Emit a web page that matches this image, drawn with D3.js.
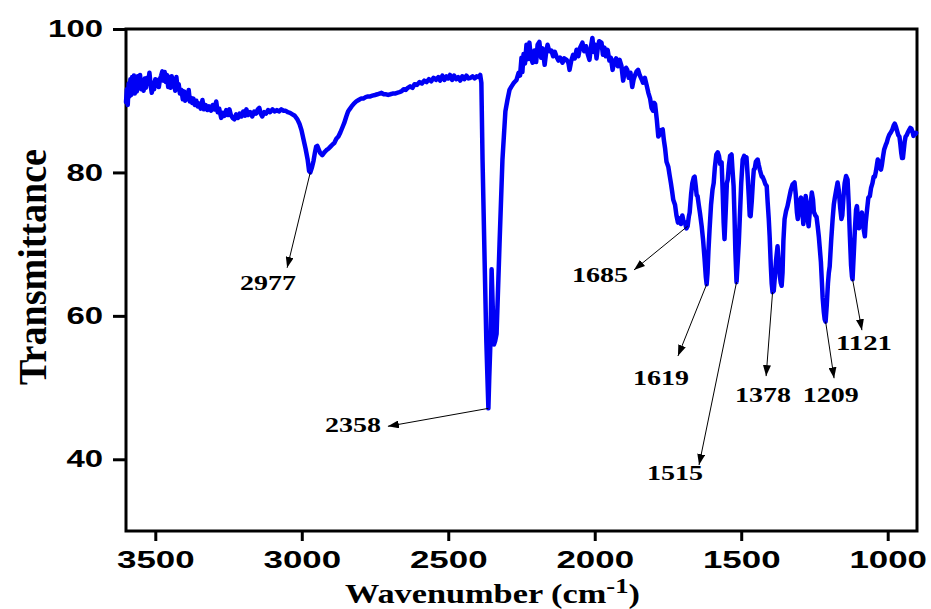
<!DOCTYPE html>
<html>
<head>
<meta charset="utf-8">
<script src="https://cdn.jsdelivr.net/npm/d3@7"></script>
<style>
  body { margin: 0; background: #fff; }
  svg { display: block; }
</style>
</head>
<body>
<svg id="chart" width="931" height="609"></svg>
<script>
// FTIR spectrum
const wavenumber = [
  3600, 3597, 3594, 3591, 3588, 3585, 3582, 3579, 3576, 3573, 3570, 3566, 3563, 3560, 3556, 3552, 3548, 3544, 3540, 3536,
  3532, 3528, 3524, 3520, 3516, 3512, 3508, 3504, 3500, 3496, 3492, 3488, 3484, 3480, 3476, 3472, 3468, 3464, 3460, 3456,
  3452, 3448, 3444, 3440, 3436, 3432, 3428, 3424, 3420, 3416, 3411, 3406, 3402, 3398, 3394, 3390, 3386, 3382, 3378, 3374,
  3370, 3365, 3360, 3355, 3350, 3345, 3339, 3334, 3328, 3322, 3316, 3310, 3304, 3298, 3292, 3287, 3282, 3275, 3270, 3264,
  3258, 3252, 3247, 3242, 3236, 3230, 3224, 3218, 3212, 3206, 3200, 3194, 3189, 3183, 3176, 3169, 3162, 3156, 3150, 3145,
  3140, 3135, 3128, 3122, 3115, 3108, 3100, 3092, 3085, 3078, 3070, 3062, 3055, 3048, 3040, 3032, 3024, 3015, 3008, 3001,
  2994, 2987, 2980, 2975, 2971, 2966, 2960, 2955, 2951, 2947, 2942, 2937, 2930, 2923, 2916, 2909, 2902, 2895, 2889, 2882,
  2875, 2868, 2861, 2855, 2848, 2842, 2837, 2830, 2822, 2814, 2806, 2798, 2790, 2782, 2774, 2766, 2759, 2750, 2742, 2735,
  2728, 2720, 2712, 2705, 2698, 2690, 2682, 2675, 2667, 2660, 2652, 2645, 2638, 2630, 2622, 2615, 2607, 2598, 2590, 2582,
  2574, 2566, 2558, 2550, 2542, 2534, 2528, 2520, 2513, 2506, 2500, 2494, 2487, 2480, 2473, 2466, 2459, 2452, 2445, 2438,
  2431, 2424, 2417, 2410, 2403, 2396, 2391, 2387, 2383, 2376, 2370, 2366, 2363, 2360, 2356, 2352, 2348, 2344, 2340, 2335,
  2325, 2315, 2305, 2298, 2291, 2284, 2276, 2267, 2260, 2255, 2250, 2247, 2243, 2238, 2233, 2228, 2223, 2218, 2212, 2206,
  2200, 2195, 2189, 2183, 2178, 2171, 2166, 2161, 2155, 2148, 2142, 2136, 2130, 2124, 2118, 2110, 2104, 2096, 2090, 2086,
  2080, 2074, 2068, 2062, 2056, 2050, 2042, 2036, 2030, 2024, 2018, 2013, 2008, 2003, 1998, 1994, 1990, 1985, 1977, 1972,
  1967, 1962, 1956, 1950, 1945, 1939, 1933, 1927, 1921, 1915, 1909, 1903, 1898, 1893, 1889, 1884, 1878, 1872, 1867, 1862,
  1857, 1852, 1846, 1840, 1835, 1829, 1823, 1817, 1811, 1806, 1801, 1797, 1794, 1788, 1783, 1778, 1773, 1768, 1764, 1760,
  1755, 1749, 1744, 1740, 1736, 1732, 1726, 1721, 1716, 1711, 1706, 1701, 1697, 1692, 1687, 1683, 1679, 1676, 1671, 1667,
  1662, 1659, 1655, 1652, 1649, 1645, 1641, 1635, 1630, 1625, 1621, 1618, 1615, 1612, 1608, 1603, 1598, 1594, 1590, 1585,
  1580, 1576, 1572, 1567, 1563, 1560, 1557, 1553, 1549, 1546, 1542, 1538, 1533, 1530, 1526, 1523, 1520, 1516, 1512, 1508,
  1505, 1500, 1495, 1490, 1485, 1482, 1478, 1474, 1471, 1468, 1464, 1460, 1457, 1454, 1450, 1444, 1440, 1436, 1430, 1427,
  1422, 1418, 1413, 1410, 1406, 1403, 1399, 1396, 1393, 1389, 1385, 1381, 1376, 1372, 1368, 1365, 1362, 1359, 1356, 1352,
  1347, 1342, 1336, 1331, 1325, 1318, 1314, 1310, 1307, 1303, 1300, 1296, 1292, 1288, 1284, 1280, 1276, 1273, 1270, 1266,
  1262, 1259, 1255, 1252, 1247, 1243, 1239, 1235, 1232, 1228, 1225, 1222, 1218, 1215, 1212, 1208, 1204, 1201, 1198, 1193,
  1188, 1184, 1181, 1176, 1171, 1167, 1162, 1158, 1155, 1151, 1147, 1142, 1137, 1133, 1129, 1125, 1122, 1120, 1116, 1112,
  1108, 1105, 1101, 1098, 1095, 1092, 1088, 1085, 1081, 1078, 1075, 1070, 1066, 1061, 1057, 1052, 1048, 1044, 1040, 1037,
  1034, 1030, 1027, 1023, 1020, 1016, 1012, 1007, 1003, 999, 994, 989, 984, 979, 976, 972, 968, 964, 960, 957,
  954, 951, 948, 945, 942, 939, 935, 931, 927, 923, 919, 915, 912, 909, 906, 903
];

const transmittance = [
  89.8, 91.6, 89.4, 92.4, 90.6, 93.0, 90.8, 93.3, 91.2, 93.5, 91.0, 92.9, 91.3, 93.4, 92.0, 93.6, 91.6, 92.3, 91.4, 93.1,
  91.8, 93.2, 92.6, 93.9, 92.2, 91.1, 92.5, 91.6, 93.0, 92.1, 92.9, 91.9, 93.0, 93.5, 94.1, 92.8, 94.0, 92.6, 93.6, 91.9,
  93.3, 91.8, 93.4, 92.0, 92.6, 91.4, 93.3, 91.6, 92.3, 91.0, 91.5, 90.2, 91.3, 90.0, 91.1, 90.2, 91.5, 89.9, 90.4, 89.7,
  90.3, 89.4, 90.0, 89.2, 89.6, 88.9, 90.1, 88.8, 89.4, 88.7, 89.2, 88.6, 89.4, 88.8, 89.9, 88.4, 88.9, 87.6, 88.3, 87.9,
  88.7, 88.0, 88.8, 88.0, 87.6, 87.4, 88.1, 87.6, 88.2, 87.8, 88.5, 87.9, 88.8, 88.0, 88.4, 87.8, 88.5, 88.2, 88.8, 89.0,
  88.2, 87.8, 88.4, 88.2, 88.7, 88.4, 88.8, 88.5, 88.7, 88.5, 88.8, 88.6, 88.6, 88.4, 88.3, 88.1, 87.9, 87.4, 86.8, 85.9,
  84.6, 83.3, 81.8, 80.2, 80.0, 80.6, 81.6, 82.8, 83.6, 83.7, 83.2, 82.7, 82.4, 82.8, 83.1, 83.3, 83.6, 83.9, 84.1, 84.7,
  85.0, 85.6, 86.3, 86.9, 87.8, 88.5, 88.8, 89.2, 89.6, 89.9, 90.1, 90.3, 90.3, 90.5, 90.6, 90.6, 90.7, 90.8, 90.9, 91.0,
  91.1, 90.9, 90.9, 90.8, 90.9, 91.0, 91.0, 91.1, 91.2, 91.3, 91.6, 91.5, 91.8, 92.0, 91.8, 92.3, 92.2, 92.6, 92.4, 92.8,
  92.6, 93.0, 92.7, 93.2, 92.9, 93.3, 92.8, 93.5, 92.9, 93.4, 93.1, 93.6, 92.9, 93.5, 93.0, 93.3, 92.8, 93.4, 93.0, 93.5,
  93.1, 93.2, 93.4, 93.1, 93.4, 93.3, 93.6, 92.5, 81.8, 67.9, 56.4, 51.0, 47.1, 51.5, 56.4, 66.5, 61.0, 56.0, 56.5, 57.5,
  70.0, 81.8, 88.5, 90.1, 91.5, 92.0, 92.5, 92.9, 93.9, 93.5, 96.0, 94.0, 96.5, 95.2, 97.8, 95.8, 98.1, 96.0, 95.3, 97.0,
  95.4, 97.8, 98.2, 96.0, 97.3, 95.0, 96.7, 97.8, 96.9, 97.0, 96.2, 96.8, 96.1, 95.6, 96.0, 95.3, 95.9, 95.7, 95.3, 94.3,
  95.6, 96.4, 95.9, 97.1, 96.2, 97.4, 98.1, 96.9, 97.6, 96.5, 95.7, 97.5, 98.75, 96.8, 97.8, 95.9, 97.2, 98.3, 98.1, 96.4,
  97.4, 96.2, 97.1, 95.6, 96.0, 94.3, 95.5, 95.9, 94.8, 95.7, 94.9, 92.8, 94.0, 94.6, 94.3, 93.2, 93.9, 91.9, 93.0, 93.6,
  94.1, 94.3, 93.5, 93.0, 92.5, 93.2, 92.2, 91.1, 90.3, 89.0, 88.6, 89.7, 89.5, 87.3, 85.0, 85.3, 85.9, 86.0, 84.5, 83.4,
  81.5, 80.8, 79.5, 78.5, 77.4, 76.2, 75.5, 74.0, 73.0, 73.6, 72.8, 74.0, 73.2, 73.0, 72.2, 72.5, 73.8, 74.4, 77.0, 78.5,
  79.3, 79.4, 78.0, 76.8, 76.7, 75.5, 74.4, 72.5, 70.5, 67.9, 65.5, 64.4, 66.0, 69.0, 72.1, 75.5, 77.6, 78.5, 80.7, 82.5,
  82.8, 82.3, 81.2, 81.4, 77.0, 73.0, 70.7, 74.5, 78.5, 79.0, 81.0, 82.3, 82.5, 80.5, 78.1, 74.0, 69.0, 64.7, 67.5, 70.5,
  73.5, 78.5, 81.8, 82.3, 82.0, 82.1, 79.5, 76.5, 74.0, 73.9, 76.0, 78.8, 80.4, 80.5, 81.5, 81.8, 81.0, 80.3, 79.4, 79.4,
  78.9, 78.4, 78.1, 76.0, 73.5, 71.1, 67.0, 64.5, 63.3, 63.5, 65.5, 67.8, 69.7, 67.5, 65.5, 64.6, 64.2, 66.0, 70.5, 73.5,
  74.6, 75.3, 76.5, 77.5, 78.3, 78.6, 77.0, 74.5, 73.5, 74.5, 76.0, 76.5, 75.0, 72.8, 74.5, 76.7, 75.5, 73.5, 72.5, 74.5,
  76.0, 77.2, 76.2, 74.5, 74.0, 73.8, 72.5, 71.0, 69.5, 67.5, 65.0, 62.5, 60.5, 59.5, 59.2, 61.5, 64.5, 66.0, 66.9, 70.5,
  73.5, 75.5, 76.3, 77.5, 78.6, 77.5, 75.0, 73.5, 74.0, 76.5, 78.5, 79.5, 79.0, 75.5, 71.0, 67.0, 65.5, 65.1, 68.5, 72.0,
  74.8, 75.3, 73.5, 72.2, 72.8, 74.0, 74.4, 73.0, 71.8, 71.1, 73.0, 75.0, 76.5, 76.7, 77.8, 78.5, 79.4, 79.4, 80.2, 81.0,
  81.8, 81.5, 80.6, 80.4, 81.0, 82.2, 83.2, 83.8, 84.2, 84.8, 85.3, 85.6, 86.0, 86.6, 86.8, 86.4, 85.8, 85.2, 85.0, 84.0,
  82.8, 82.0, 82.0, 83.2, 84.3, 85.0, 85.2, 85.6, 85.9, 86.2, 86.1, 85.6, 85.1, 85.5, 85.3, 85.5
];

const xTicks = [3500, 3000, 2500, 2000, 1500, 1000];
const yTicks = [40, 60, 80, 100];

// peak annotations: label, arrow start (on the curve), arrow end, label anchor
const peakLabels = ["2977", "2358", "1685", "1619", "1515", "1378", "1209", "1121"];
const peakWn     = [2971, 2363, 1683, 1618, 1516, 1393, 1212, 1120];
const peakT      = [80.0, 47.1, 72.5, 64.4, 64.7, 63.3, 59.2, 65.1];
const arrowWn    = [3050, 2706, 1866, 1716, 1644, 1415, 1183, 1088];
const arrowT     = [66.7, 44.6, 66.4, 54.4, 39.2, 51.6, 51.3, 58.0];
const labelWn    = [3115, 2825, 1982, 1774, 1726, 1426, 1194, 1081];
const labelT     = [63.6, 43.8, 64.7, 50.4, 37.1, 48.0, 48.0, 55.2];

const spectrum = wavenumber.map((w, i) => ({ wn: w, t: transmittance[i] }));
const peaks = peakLabels.map((p, i) => ({
  label: p, wn: peakWn[i], t: peakT[i],
  toWn: arrowWn[i], toT: arrowT[i],
  lWn: labelWn[i], lT: labelT[i]
}));

const svg = d3.select("#chart");

const x = d3.scaleLinear().domain([3600, 900]).range([126, 917]);
const y = d3.scaleLinear().domain([30, 100]).range([531, 29]);

const sansBold = "'Liberation Sans', Arial, sans-serif";
const serifBold = "'Liberation Serif', 'Times New Roman', serif";

// stretch glyphs to the wide look of the original
const stretch = (sel, perChar) => {
  sel.attr("textLength", function () { return this.textContent.length * perChar; })
    .attr("lengthAdjust", "spacingAndGlyphs");
};

svg.append("defs").append("marker")
  .attr("id", "head")
  .attr("markerUnits", "userSpaceOnUse")
  .attr("markerWidth", 11)
  .attr("markerHeight", 8)
  .attr("refX", 11)
  .attr("refY", 4)
  .attr("orient", "auto")
  .append("path")
  .attr("d", "M0,0 L11,4 L0,8 Z")
  .attr("fill", "#000");

const xAxis = svg.append("g")
  .attr("transform", `translate(0,${y.range()[0]})`)
  .call(d3.axisBottom(x).tickValues(xTicks).tickSize(10).tickPadding(10).tickFormat(d3.format("d")));

const yAxis = svg.append("g")
  .attr("transform", `translate(${x.range()[0]},0)`)
  .call(d3.axisLeft(y).tickValues(yTicks).tickSize(13).tickPadding(10).tickFormat(d3.format("d")));

[xAxis, yAxis].forEach((ax) => {
  ax.select(".domain").remove();
  ax.selectAll(".tick line").attr("stroke", "#000").attr("stroke-width", 3);
  ax.selectAll(".tick text")
    .attr("fill", "#000")
    .style("font-family", sansBold)
    .style("font-weight", "bold")
    .style("font-size", "24px");
});
stretch(xAxis.selectAll(".tick text"), 19.4);
stretch(yAxis.selectAll(".tick text"), 18.3);

// frame
svg.append("rect")
  .attr("x", x.range()[0])
  .attr("y", y.range()[1])
  .attr("width", x.range()[1] - x.range()[0])
  .attr("height", y.range()[0] - y.range()[1])
  .attr("fill", "none")
  .attr("stroke", "#000")
  .attr("stroke-width", 3);

const line = d3.line()
  .x((d) => x(d.wn))
  .y((d) => y(d.t));

svg.append("path")
  .datum(spectrum)
  .attr("d", line)
  .attr("fill", "none")
  .attr("stroke", "#0000f5")
  .attr("stroke-width", 4.5)
  .attr("stroke-linejoin", "round")
  .attr("stroke-linecap", "round");

// arrows + peak labels
svg.append("g").selectAll("line")
  .data(peaks)
  .enter().append("line")
  .attr("x1", (d) => x(d.wn))
  .attr("y1", (d) => y(d.t))
  .attr("x2", (d) => x(d.toWn))
  .attr("y2", (d) => y(d.toT))
  .attr("stroke", "#000")
  .attr("stroke-width", 1)
  .attr("marker-end", "url(#head)");

const peakText = svg.append("g").selectAll("text")
  .data(peaks)
  .enter().append("text")
  .attr("x", (d) => x(d.lWn))
  .attr("y", (d) => y(d.lT))
  .attr("text-anchor", "middle")
  .style("font-family", serifBold)
  .style("font-weight", "bold")
  .style("font-size", "21px")
  .text((d) => d.label);
stretch(peakText, 14);

// axis titles
const yTitle = svg.append("text")
  .attr("transform", "translate(46,267) rotate(-90)")
  .attr("text-anchor", "middle")
  .style("font-family", serifBold)
  .style("font-weight", "bold")
  .style("font-size", "40px")
  .text("Transmittance");
stretch(yTitle, 236 / 13);

const xTitleG = svg.append("g");
const xTitle = xTitleG.append("text")
  .attr("x", 0)
  .attr("y", 0)
  .style("font-family", serifBold)
  .style("font-weight", "bold")
  .style("font-size", "27px");
xTitle.append("tspan").text("Wavenumber (cm");
xTitle.append("tspan").attr("dy", -10).style("font-size", "21px").text("-1");
xTitle.append("tspan").attr("dy", 10).text(")");

const bw = xTitle.node().getBBox().width;
const k = 295 / bw;
xTitleG.attr("transform", `translate(345,603) scale(${k},1)`);
</script>
</body>
</html>
